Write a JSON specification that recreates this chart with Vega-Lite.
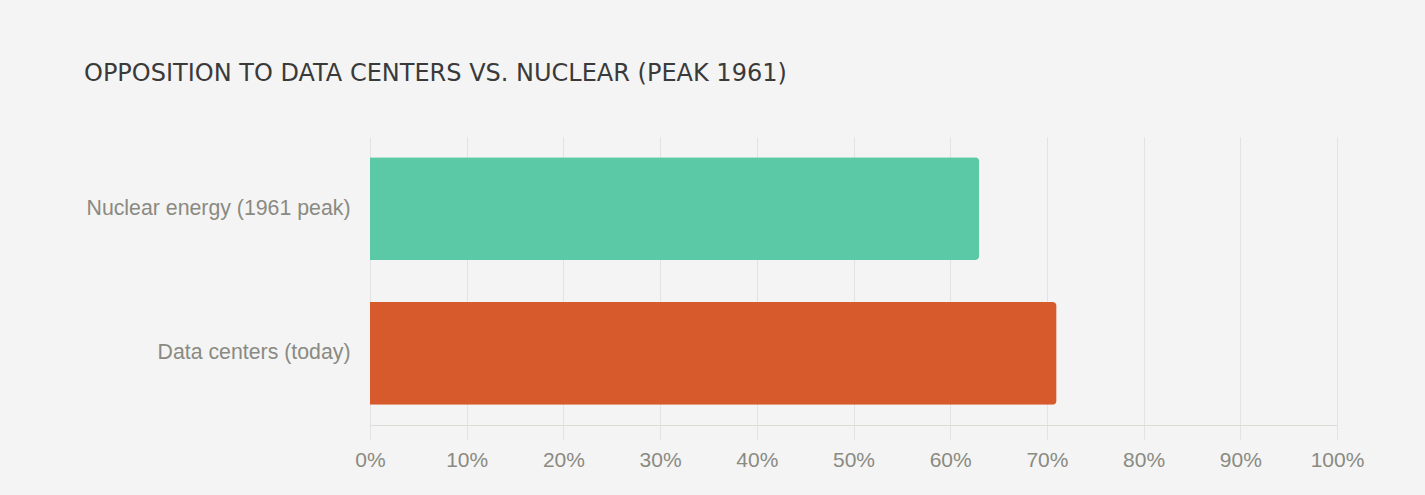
{
  "$schema": "https://vega.github.io/schema/vega-lite/v6.json",
  "autosize": "none",
  "width": 967,
  "height": 288,
  "padding": {"left": 370, "top": 137, "right": 88, "bottom": 70},
  "background": "#f4f4f4",
  "title": {
    "text": "OPPOSITION TO DATA CENTERS VS. NUCLEAR (PEAK 1961)",
    "anchor": "start",
    "frame": "group",
    "dx": -286,
    "baseline": "alphabetic",
    "offset": 32,
    "font": "DejaVu Sans",
    "fontSize": 24,
    "fontWeight": "normal",
    "color": "#3a3a3a"
  },
  "data": {
    "values": [
      {"category": "Nuclear energy (1961 peak)", "value": 63},
      {"category": "Data centers (today)", "value": 71}
    ]
  },
  "mark": {"type": "bar", "cornerRadiusEnd": 4},
  "encoding": {
    "y": {
      "field": "category",
      "type": "nominal",
      "sort": null,
      "title": null,
      "scale": {"paddingInner": 0.29, "paddingOuter": 0.14},
      "axis": {
        "domain": false,
        "ticks": false,
        "grid": false,
        "labelPadding": 20,
        "labelLimit": 400,
        "labelFont": "Liberation Sans",
        "labelFontSize": 21.3,
        "labelColor": "#8a8a82"
      }
    },
    "x": {
      "field": "value",
      "type": "quantitative",
      "title": null,
      "scale": {"domain": [0, 100], "nice": false},
      "axis": {
        "values": [0, 10, 20, 30, 40, 50, 60, 70, 80, 90, 100],
        "labelExpr": "datum.value + '%'",
        "labelFlush": false,
        "grid": true,
        "gridColor": "#e3e3e3",
        "gridWidth": 1,
        "domain": true,
        "domainColor": "#dcdcd6",
        "ticks": true,
        "tickSize": 15,
        "tickColor": "#e3e3e3",
        "labelPadding": 9,
        "labelFont": "Liberation Sans",
        "labelFontSize": 21,
        "labelColor": "#8a8a82"
      }
    },
    "color": {
      "field": "category",
      "type": "nominal",
      "scale": {
        "domain": ["Nuclear energy (1961 peak)", "Data centers (today)"],
        "range": ["#5bc9a5", "#d65a2c"]
      },
      "legend": null
    }
  },
  "config": {"view": {"stroke": null}}
}
